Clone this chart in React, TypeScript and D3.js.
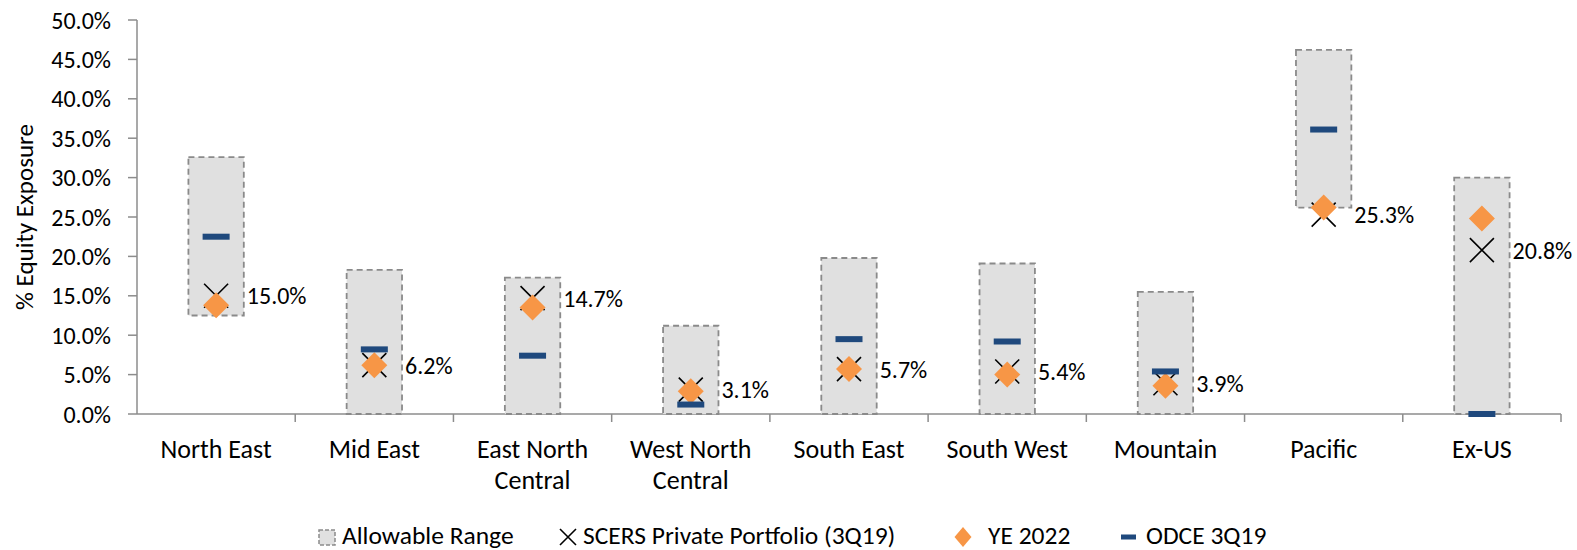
import * as d3 from "d3";

const categories = ["North East", "Mid East", "East North Central", "West North Central", "South East", "South West", "Mountain", "Pacific", "Ex-US"];
const categoryLines = [["North East"], ["Mid East"], ["East North", "Central"], ["West North", "Central"], ["South East"], ["South West"], ["Mountain"], ["Pacific"], ["Ex-US"]];
const rangeLow = [12.5, 0, 0, 0, 0, 0, 0, 26.2, 0];
const rangeHigh = [32.6, 18.3, 17.3, 11.2, 19.8, 19.1, 15.5, 46.2, 30.0];
const scers = [15.0, 6.2, 14.7, 3.1, 5.7, 5.4, 3.9, 25.3, 20.8];
const ye2022 = [13.8, 6.2, 13.5, 2.9, 5.7, 5.0, 3.6, 26.2, 24.8];
const odce = [22.5, 8.2, 7.4, 1.2, 9.5, 9.2, 5.4, 36.1, 0.0];
const yTicks = [0, 5, 10, 15, 20, 25, 30, 35, 40, 45, 50];

const FONT = "Calibri, Carlito, Lato, sans-serif";
const W = 1577;
const H = 550;
const axisColor = "#8c8c8c";

export default function App() {
  document.body.style.margin = "0";
  const x = d3.scaleBand<string>().domain(categories).range([137, 1561]).padding(0);
  const y = d3.scaleLinear().domain([0, 50]).range([414, 20]);
  const bw = x.bandwidth();
  const boxW = bw * 0.35;
  const fmt = (v: number) => v.toFixed(1) + "%";
  const cx = (i: number) => (x(categories[i]) as number) + bw / 2;

  const diamond = (s: number, h = s) => `M0,${-h}L${s},0L0,${h}L${-s},0Z`;
  const cross = (s: number) => `M${-s},${-s}L${s},${s}M${s},${-s}L${-s},${s}`;

  return (
    <svg width={W} height={H} style={{ display: "block", fontFamily: FONT }}>
      <rect width={W} height={H} fill="#fff" />
      {/* y axis */}
      <line x1={137} x2={137} y1={y(50)} y2={y(0)} stroke={axisColor} strokeWidth={1.5} />
      {yTicks.map((t) => (
        <g key={t}>
          <line x1={128} x2={137} y1={y(t)} y2={y(t)} stroke={axisColor} strokeWidth={1.5} />
          <text x={111} y={y(t)} dy="0.36em" textAnchor="end" fontSize={24} fill="#000">
            {fmt(t)}
          </text>
        </g>
      ))}
      <text transform={`translate(33,${(y(0) + y(50)) / 2}) rotate(-90)`} textAnchor="middle" fontSize={25} fill="#000">
        % Equity Exposure
      </text>
      {/* x axis */}
      <line x1={137} x2={1561} y1={y(0)} y2={y(0)} stroke={axisColor} strokeWidth={1.5} />
      {categories.map((c) => (
        <line key={c} x1={(x(c) as number) + bw} x2={(x(c) as number) + bw} y1={y(0)} y2={y(0) + 8} stroke={axisColor} strokeWidth={1.5} />
      ))}
      {categoryLines.map((lines, i) => (
        <text key={i} x={cx(i)} y={458} textAnchor="middle" fontSize={26} fill="#000">
          {lines.map((l, j) => (
            <tspan key={j} x={cx(i)} dy={j === 0 ? 0 : 31}>
              {l}
            </tspan>
          ))}
        </text>
      ))}
      {/* allowable range boxes */}
      {categories.map((c, i) => (
        <rect
          key={c}
          x={cx(i) - boxW / 2}
          y={y(rangeHigh[i])}
          width={boxW}
          height={y(rangeLow[i]) - y(rangeHigh[i])}
          fill="#e0e0e0"
          stroke="#8a8a8a"
          strokeWidth={1.8}
          strokeDasharray="6,4"
        />
      ))}
      {/* SCERS crosses */}
      {categories.map((c, i) => (
        <path key={c} d={cross(12)} transform={`translate(${cx(i)},${y(scers[i])})`} stroke="#000" strokeWidth={1.6} fill="none" />
      ))}
      {/* YE 2022 diamonds */}
      {categories.map((c, i) => (
        <path key={c} d={diamond(13)} transform={`translate(${cx(i)},${y(ye2022[i])})`} fill="#f79646" />
      ))}
      {/* ODCE dashes */}
      {categories.map((c, i) => (
        <rect key={c} x={cx(i) - 13.5} y={y(odce[i]) - 3} width={27} height={6} fill="#1f497d" />
      ))}
      {/* labels */}
      {categories.map((c, i) => (
        <text key={c} x={cx(i) + boxW / 2 + 3} y={y(scers[i])} dy="0.36em" fontSize={24} fill="#000">
          {fmt(scers[i])}
        </text>
      ))}
      {/* legend */}
      <g fontSize={25.5} fill="#000">
        <rect x={319} y={530} width={16} height={15} fill="#e0e0e0" stroke="#8a8a8a" strokeWidth={1.5} strokeDasharray="4,2" />
        <text x={342} y={544}>Allowable Range</text>
        <path d={cross(8)} transform="translate(568,537)" stroke="#000" strokeWidth={1.6} fill="none" />
        <text x={583} y={544}>SCERS Private Portfolio (3Q19)</text>
        <path d={diamond(8.5, 10)} transform="translate(963,537)" fill="#f79646" />
        <text x={988} y={544}>YE 2022</text>
        <rect x={1121} y={534.5} width={15} height={5} fill="#1f497d" />
        <text x={1146} y={544}>ODCE 3Q19</text>
      </g>
    </svg>
  );
}
